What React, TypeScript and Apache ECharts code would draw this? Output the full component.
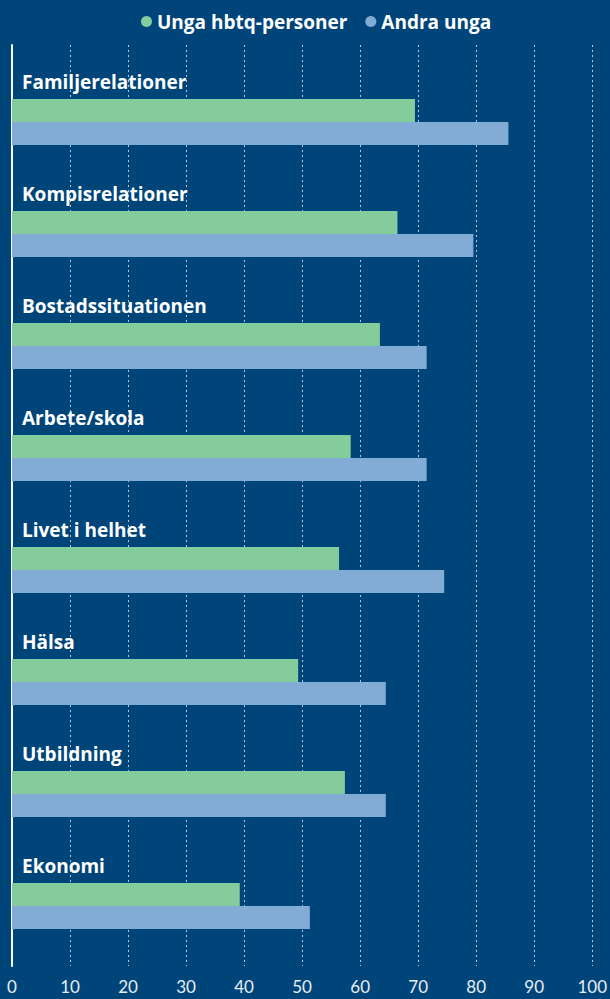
import React, { useEffect, useRef } from "react";
import * as echarts from "echarts";

const categories = [
  "Familjerelationer",
  "Kompisrelationer",
  "Bostadssituationen",
  "Arbete/skola",
  "Livet i helhet",
  "Hälsa",
  "Utbildning",
  "Ekonomi",
];
const hbtqValues = [69, 66, 63, 58, 56, 49, 57, 39];
const andraValues = [85, 79, 71, 71, 74, 64, 64, 51];
const seriesNames = ["Unga hbtq-personer", "Andra unga"];
const xTicks = { min: 0, max: 100, interval: 10 };

const BG = "#00457a";
const GREEN = "#84cc9b";
const BLUE = "#82abd5";
const BOLD_FONT = "'Open Sans', sans-serif";
const TICK_FONT = "Lato, 'Open Sans', sans-serif";

export default function App() {
  const ref = useRef<HTMLDivElement>(null);
  useEffect(() => {
    if (!ref.current) return;
    const chart = echarts.init(ref.current, null, { renderer: "svg" });
    chart.setOption({
      animation: false,
      backgroundColor: BG,
      legend: {
        left: 136,
        top: 7,
        icon: "circle",
        itemWidth: 11,
        itemHeight: 11,
        itemGap: 18,
        textStyle: { color: "#ffffff", fontFamily: BOLD_FONT, fontWeight: "bold", fontSize: 19 },
        data: seriesNames,
      },
      grid: [
        { left: 12, right: 14, top: 66, bottom: 37 },
        { left: 12, right: 14, top: 45, bottom: 33 },
      ],
      xAxis: [
        {
          gridIndex: 0,
          type: "value",
          min: xTicks.min,
          max: xTicks.max,
          interval: xTicks.interval,
          show: false,
        },
        {
          gridIndex: 1,
          type: "value",
          min: xTicks.min,
          max: xTicks.max,
          interval: xTicks.interval,
          axisLine: { show: false },
          axisTick: { show: false },
          axisLabel: {
            color: "#e8eef4",
            fontFamily: TICK_FONT,
            fontSize: 17,
            margin: 12,
          },
          splitLine: {
            show: true,
            lineStyle: { color: "rgba(255,255,255,0.7)", type: [2, 3], width: 1 },
          },
        },
      ],
      yAxis: [
        {
          gridIndex: 0,
          type: "category",
          inverse: true,
          data: categories,
          axisLine: { show: false },
          axisTick: { show: false },
          splitLine: { show: false },
          axisLabel: {
            inside: true,
            align: "left",
            margin: 10,
            verticalAlign: "bottom",
            lineHeight: 22,
            padding: [0, 0, 29, 0],
            color: "#ffffff",
            fontFamily: BOLD_FONT,
            fontWeight: "bold",
            fontSize: 19,
          },
          z: 10,
        },
        {
          gridIndex: 1,
          type: "value",
          min: 0,
          max: 1,
          axisLine: { show: true, onZero: false, lineStyle: { color: "#ffffff", width: 2 } },
          axisTick: { show: false },
          axisLabel: { show: false },
          splitLine: { show: false },
        },
      ],
      series: [
        {
          name: seriesNames[0],
          type: "bar",
          xAxisIndex: 0,
          yAxisIndex: 0,
          data: hbtqValues,
          barWidth: 23,
          barGap: "0%",
          itemStyle: { color: GREEN },
          z: 5,
        },
        {
          name: seriesNames[1],
          type: "bar",
          xAxisIndex: 0,
          yAxisIndex: 0,
          data: andraValues,
          barWidth: 23,
          barGap: "0%",
          itemStyle: { color: BLUE },
          z: 5,
        },
      ],
    });
    return () => chart.dispose();
  }, []);
  return (
    <div
      ref={ref}
      style={{ position: "fixed", left: 0, top: 0, width: 610, height: 999 }}
    />
  );
}
